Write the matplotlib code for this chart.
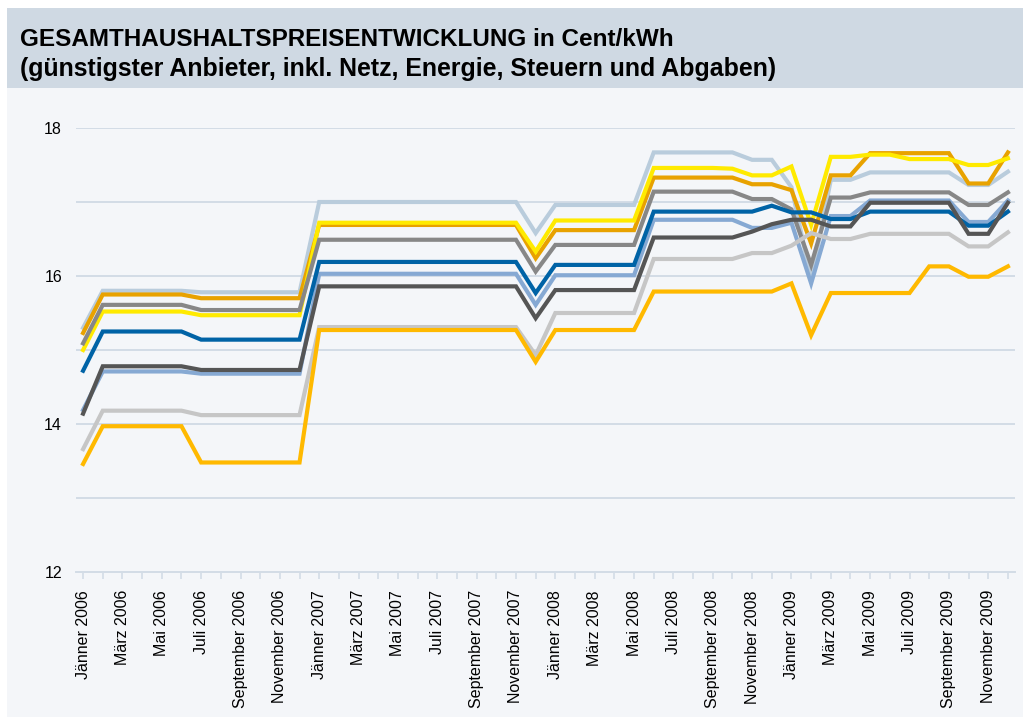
import numpy as np
from matplotlib import pyplot as plt
from matplotlib.patches import Rectangle

plt.rcParams['font.family'] = ['Liberation Sans', 'DejaVu Sans']

# monthly prices Jänner 2006 .. Dezember 2009, Cent/kWh
monate = ['Jänner', 'Februar', 'März', 'April', 'Mai', 'Juni', 'Juli',
          'August', 'September', 'Oktober', 'November', 'Dezember']
jahre = [2006, 2007, 2008, 2009]

hellgraublau = [15.30, 15.80, 15.80, 15.80, 15.80, 15.80, 15.78, 15.78, 15.78, 15.78, 15.78, 15.78,
                17.00, 17.00, 17.00, 17.00, 17.00, 17.00, 17.00, 17.00, 17.00, 17.00, 17.00, 16.58,
                16.96, 16.96, 16.96, 16.96, 16.96, 17.67, 17.67, 17.67, 17.67, 17.67, 17.57, 17.57,
                17.20, 15.95, 17.30, 17.30, 17.40, 17.40, 17.40, 17.40, 17.40, 17.23, 17.23, 17.41]
gelb = [15.00, 15.52, 15.52, 15.52, 15.52, 15.52, 15.47, 15.47, 15.47, 15.47, 15.47, 15.47,
        16.72, 16.72, 16.72, 16.72, 16.72, 16.72, 16.72, 16.72, 16.72, 16.72, 16.72, 16.33,
        16.75, 16.75, 16.75, 16.75, 16.75, 17.46, 17.46, 17.46, 17.46, 17.45, 17.36, 17.36,
        17.48, 16.69, 17.61, 17.61, 17.64, 17.64, 17.58, 17.58, 17.58, 17.50, 17.50, 17.59]
orange = [15.23, 15.75, 15.75, 15.75, 15.75, 15.75, 15.70, 15.70, 15.70, 15.70, 15.70, 15.70,
          16.69, 16.69, 16.69, 16.69, 16.69, 16.69, 16.69, 16.69, 16.69, 16.69, 16.69, 16.24,
          16.62, 16.62, 16.62, 16.62, 16.62, 17.33, 17.33, 17.33, 17.33, 17.33, 17.24, 17.24,
          17.16, 16.44, 17.36, 17.36, 17.66, 17.66, 17.66, 17.66, 17.66, 17.25, 17.25, 17.67]
mittelgrau = [15.09, 15.61, 15.61, 15.61, 15.61, 15.61, 15.54, 15.54, 15.54, 15.54, 15.54, 15.54,
              16.49, 16.49, 16.49, 16.49, 16.49, 16.49, 16.49, 16.49, 16.49, 16.49, 16.49, 16.06,
              16.42, 16.42, 16.42, 16.42, 16.42, 17.14, 17.14, 17.14, 17.14, 17.14, 17.04, 17.04,
              16.90, 16.15, 17.06, 17.06, 17.13, 17.13, 17.13, 17.13, 17.13, 16.96, 16.96, 17.13]
dunkelblau = [14.72, 15.25, 15.25, 15.25, 15.25, 15.25, 15.14, 15.14, 15.14, 15.14, 15.14, 15.14,
              16.19, 16.19, 16.19, 16.19, 16.19, 16.19, 16.19, 16.19, 16.19, 16.19, 16.19, 15.77,
              16.15, 16.15, 16.15, 16.15, 16.15, 16.87, 16.87, 16.87, 16.87, 16.87, 16.87, 16.95,
              16.86, 16.86, 16.77, 16.77, 16.87, 16.87, 16.87, 16.87, 16.87, 16.68, 16.68, 16.87]
stahlblau = [14.19, 14.71, 14.71, 14.71, 14.71, 14.71, 14.68, 14.68, 14.68, 14.68, 14.68, 14.68,
             16.03, 16.03, 16.03, 16.03, 16.03, 16.03, 16.03, 16.03, 16.03, 16.03, 16.03, 15.61,
             16.01, 16.01, 16.01, 16.01, 16.01, 16.76, 16.76, 16.76, 16.76, 16.76, 16.65, 16.65,
             16.72, 15.90, 16.81, 16.81, 17.02, 17.02, 17.02, 17.02, 17.02, 16.73, 16.73, 17.02]
dunkelgrau = [14.14, 14.78, 14.78, 14.78, 14.78, 14.78, 14.73, 14.73, 14.73, 14.73, 14.73, 14.73,
              15.86, 15.86, 15.86, 15.86, 15.86, 15.86, 15.86, 15.86, 15.86, 15.86, 15.86, 15.43,
              15.81, 15.81, 15.81, 15.81, 15.81, 16.52, 16.52, 16.52, 16.52, 16.52, 16.60, 16.70,
              16.76, 16.76, 16.67, 16.67, 16.99, 16.99, 16.99, 16.99, 16.99, 16.57, 16.57, 16.99]
hellgrau = [13.66, 14.18, 14.18, 14.18, 14.18, 14.18, 14.12, 14.12, 14.12, 14.12, 14.12, 14.12,
            15.31, 15.31, 15.31, 15.31, 15.31, 15.31, 15.31, 15.31, 15.31, 15.31, 15.31, 14.93,
            15.50, 15.50, 15.50, 15.50, 15.50, 16.23, 16.23, 16.23, 16.23, 16.23, 16.31, 16.31,
            16.41, 16.58, 16.50, 16.50, 16.57, 16.57, 16.57, 16.57, 16.57, 16.40, 16.40, 16.59]
gold = [13.46, 13.97, 13.97, 13.97, 13.97, 13.97, 13.48, 13.48, 13.48, 13.48, 13.48, 13.48,
        15.27, 15.27, 15.27, 15.27, 15.27, 15.27, 15.27, 15.27, 15.27, 15.27, 15.27, 14.84,
        15.27, 15.27, 15.27, 15.27, 15.27, 15.79, 15.79, 15.79, 15.79, 15.79, 15.79, 15.79,
        15.90, 15.20, 15.77, 15.77, 15.77, 15.77, 15.77, 16.13, 16.13, 15.99, 15.99, 16.13]

serien = [(hellgraublau, '#B9CCDC'), (orange, '#E8A200'), (gelb, '#FFEA00'),
          (mittelgrau, '#878787'), (stahlblau, '#86A9D3'), (dunkelblau, '#0063A6'),
          (dunkelgrau, '#555555'), (hellgrau, '#C6C6C6'), (gold, '#FFB900')]

labels = []
for j in jahre:
    for i, m in enumerate(monate):
        labels.append(f'{m} {j}' if i % 2 == 0 else '')

W, H = 1023, 717
fig = plt.figure(figsize=(W / 100, H / 100), dpi=100)
fig.patch.set_facecolor('white')
# body and title banner, behind the axes
fig.add_artist(Rectangle((7 / W, 0), 1, 1 - 88 / H, transform=fig.transFigure,
                         facecolor='#F4F6F9', edgecolor='none', zorder=-10))
fig.add_artist(Rectangle((7 / W, 1 - 88 / H), 1, 80 / H, transform=fig.transFigure,
                         facecolor='#CFD9E3', edgecolor='none', zorder=-10))
fig.text(20 / W, 1 - 46 / H, 'GESAMTHAUSHALTSPREISENTWICKLUNG in Cent/kWh',
         fontsize=17.5, fontweight='bold', va='baseline', ha='left')
fig.text(20 / W, 1 - 76 / H, '(günstigster Anbieter, inkl. Netz, Energie, Steuern und Abgaben)',
         fontsize=17.9, fontweight='bold', va='baseline', ha='left')

ax = fig.add_axes([76 / W, 1 - 572 / H, (1015 - 76) / W, (572 - 128) / H])
ax.patch.set_alpha(0)

x = np.arange(len(labels))
for werte, farbe in serien:
    ax.plot(x, werte, color=farbe, lw=3, solid_joinstyle='miter', zorder=3)

gridfarbe = '#D3DCE6'
ax.set_ylim(12, 18)
ax.set_xlim(-0.36, 47.36)
ax.set_yticks(range(12, 19))
ax.set_yticklabels([str(v) if v % 2 == 0 else '' for v in range(12, 19)])
ax.yaxis.grid(True, color=gridfarbe, lw=1.4)
ax.set_axisbelow(True)
ax.set_xticks(x)
ax.set_xticklabels(labels, rotation=90, fontsize=11.5)
ax.tick_params(axis='x', length=5, color=gridfarbe, width=1.2, pad=8)
ax.tick_params(axis='y', length=0, pad=10, labelsize=11.5)
for s in ['top', 'right', 'left']:
    ax.spines[s].set_visible(False)
ax.spines['bottom'].set_color(gridfarbe)
ax.spines['bottom'].set_linewidth(1.4)

fig.savefig('out.png', dpi=100)
